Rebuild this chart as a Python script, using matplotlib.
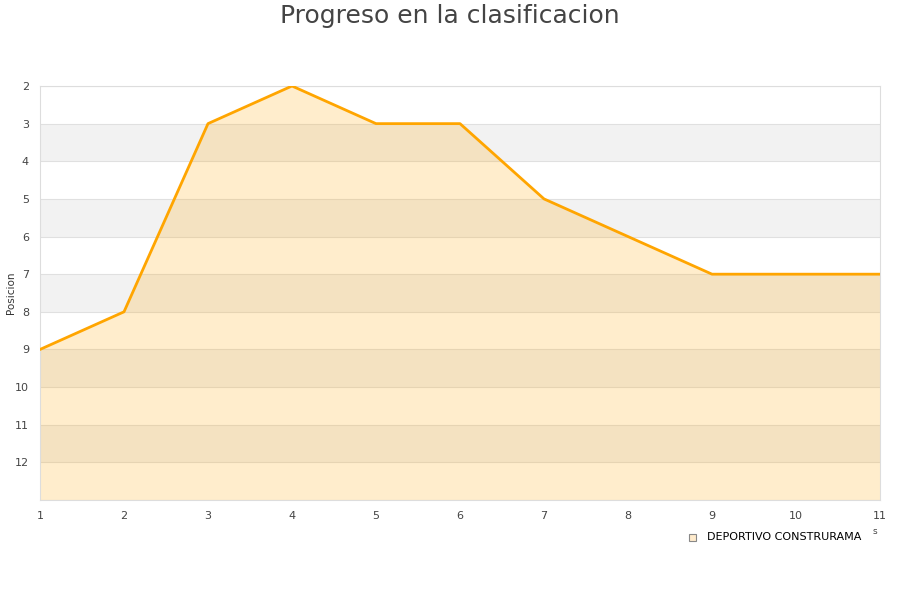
import numpy as np
import matplotlib.pyplot as plt

jornadas = [1, 2, 3, 4, 5, 6, 7, 8, 9, 10, 11]
posicion = [9, 8, 3, 2, 3, 3, 5, 6, 7, 7, 7]
equipo = 'DEPORTIVO CONSTRURAMA'
y_ticks = list(range(2, 13))

fig = plt.figure(figsize=(9, 6), dpi=100)
ax = fig.add_axes([40/900, 1 - 500/600, 840/900, 414/600])

# bandas alternas
for y0 in range(3, 13, 2):
    ax.axhspan(y0, y0 + 1, color='#f2f2f2', zorder=0, lw=0)
for y in range(2, 14):
    ax.axhline(y, color='#e0e0e0', lw=0.8, zorder=1)

ax.fill_between(jornadas, posicion, 13, color='orange', alpha=0.2, lw=0, zorder=2)
ax.plot(jornadas, posicion, color='#ffa500', lw=2, zorder=3)

ax.set_xlim(1, 11)
ax.set_ylim(13, 2)
ax.set_xticks(jornadas)
ax.set_yticks(y_ticks)
ax.tick_params(length=0, labelsize=8, colors='#444444', pad=8)
for s in ax.spines.values():
    s.set_color('#dddddd')

fig.text(11/900, 1 - 293/600, 'Posicion', rotation=90, fontsize=7.5,
         color='#333333', ha='center', va='center')

fig.text(0.5, 1 - 16/600, 'Progreso en la clasificacion', ha='center', va='center',
         fontsize=18, color='#444444')

# leyenda
fig.patches.append(plt.Rectangle((689/900, 1 - 541/600), 7/900, 7/600,
                                 transform=fig.transFigure, facecolor='#ffebcc',
                                 edgecolor='#888888', lw=0.8))
fig.text(707/900, 1 - 537/600, equipo, fontsize=8, va='center', color='#000000')
fig.text(875/900, 1 - 532/600, 's', fontsize=6.5, va='center', ha='center', color='#444444')

fig.savefig('out.png', dpi=100)
